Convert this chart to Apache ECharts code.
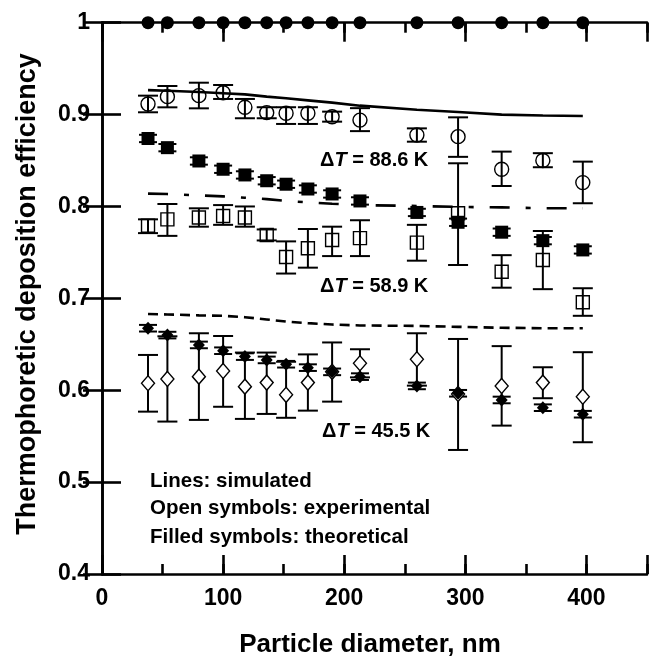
<!DOCTYPE html>
<html>
<head>
<meta charset="utf-8">
<script src="https://cdn.jsdelivr.net/npm/echarts@6/dist/echarts.min.js"></script>
<style>
  html, body { margin: 0; padding: 0; background: #fff; }
  #chart { width: 650px; height: 658px; }
</style>
</head>
<body>
<div id="chart"></div>
<script>
// Particle diameters (nm) shared by every series
const diameters = [38, 54, 80, 100, 118, 136, 152, 170, 190, 213, 260, 294, 330, 364, 397];

// ΔT = 88.6 K
const sim886 = [0.9266, 0.926, 0.9245, 0.9232, 0.922, 0.9195, 0.9177, 0.9155, 0.913, 0.9097, 0.9053, 0.9028, 0.900, 0.899, 0.8985];
const exp886 = [0.9115, 0.9195, 0.9206, 0.9238, 0.9079, 0.9021, 0.9014, 0.9014, 0.8977, 0.894, 0.8778, 0.876, 0.8405, 0.850, 0.826];
const exp886Lo = [0.9025, 0.9079, 0.9068, 0.917, 0.896, 0.896, 0.8898, 0.8898, 0.8923, 0.882, 0.8705, 0.854, 0.8223, 0.8427, 0.8035];
const exp886Hi = [0.9206, 0.9311, 0.9347, 0.9322, 0.917, 0.908, 0.908, 0.908, 0.9032, 0.907, 0.885, 0.897, 0.8597, 0.858, 0.8488];
const theo886 = [1, 1, 1, 1, 1, 1, 1, 1, 1, 1, 1, 1, 1, 1, 1];

// ΔT = 58.9 K
const sim589 = [0.814, 0.8135, 0.812, 0.811, 0.8095, 0.808, 0.806, 0.8045, 0.803, 0.8015, 0.8005, 0.7995, 0.799, 0.798, 0.798];
const exp589 = [0.779, 0.786, 0.788, 0.7897, 0.788, 0.769, 0.745, 0.7545, 0.7635, 0.7655, 0.7606, 0.7926, 0.729, 0.7417, 0.6957];
const exp589Lo = [0.771, 0.768, 0.778, 0.780, 0.778, 0.763, 0.727, 0.7334, 0.746, 0.746, 0.741, 0.7363, 0.7116, 0.710, 0.681];
const exp589Hi = [0.786, 0.8027, 0.798, 0.8015, 0.800, 0.775, 0.762, 0.7755, 0.778, 0.785, 0.780, 0.847, 0.747, 0.7733, 0.711];
const theo589 = [0.874, 0.864, 0.8495, 0.8405, 0.8343, 0.828, 0.8242, 0.819, 0.8136, 0.806, 0.7935, 0.7828, 0.772, 0.7628, 0.7527];
const theo589Err = [0.004, 0.004, 0.004, 0.004, 0.004, 0.004, 0.004, 0.004, 0.004, 0.004, 0.004, 0.004, 0.004, 0.004, 0.004];

// ΔT = 45.5 K
const sim455 = [0.683, 0.6825, 0.6815, 0.681, 0.6795, 0.677, 0.6748, 0.673, 0.6715, 0.6705, 0.670, 0.669, 0.668, 0.6675, 0.6675];
const exp455 = [0.6076, 0.6123, 0.6148, 0.621, 0.6039, 0.6083, 0.595, 0.6083, 0.620, 0.6294, 0.6337, 0.596, 0.6047, 0.6083, 0.593];
const exp455Lo = [0.5767, 0.5659, 0.5677, 0.582, 0.5688, 0.5742, 0.570, 0.5778, 0.5876, 0.614, 0.605, 0.535, 0.5615, 0.5913, 0.5434];
const exp455Hi = [0.6384, 0.6587, 0.662, 0.659, 0.641, 0.641, 0.631, 0.639, 0.652, 0.6446, 0.662, 0.6558, 0.648, 0.625, 0.6414];
const theo455 = [0.6675, 0.660, 0.6493, 0.643, 0.6366, 0.633, 0.6283, 0.6246, 0.620, 0.6148, 0.6047, 0.5967, 0.5894, 0.581, 0.5739];
const theo455Err = [0.0036, 0.0036, 0.0036, 0.0036, 0.0036, 0.0036, 0.0036, 0.0036, 0.0036, 0.0036, 0.0036, 0.0036, 0.0036, 0.0036, 0.0036];

// Axis tick labels
const xTickLabels = ['0', '100', '200', '300', '400'];
const yTickLabels = ['0.4', '0.5', '0.6', '0.7', '0.8', '0.9', '1'];

const FONT = 'Liberation Sans, Arial, Helvetica, sans-serif';
const BLACK = '#000';

// Plot area in pixels
const GRID = { left: 102, top: 22.7, width: 555, height: 551.3 };
const Y_MIN = 0.4, Y_MAX = 1;
const yPix = (v) => GRID.top + (Y_MAX - v) / (Y_MAX - Y_MIN) * GRID.height;

const pairs = (vals) => diameters.map((d, i) => [d, vals[i]]);

function errorBars(lo, hi, capHalf, width) {
  return {
    type: 'custom',
    data: diameters.map((d, i) => [d, lo[i], hi[i]]),
    encode: { x: 0, y: [1, 2] },
    clip: false,
    z: 3,
    silent: true,
    renderItem: (params, api) => {
      const x = api.value(0);
      const a = api.coord([x, api.value(1)]);
      const b = api.coord([x, api.value(2)]);
      const style = { stroke: BLACK, lineWidth: width, fill: null };
      return {
        type: 'group',
        children: [
          { type: 'line', shape: { x1: a[0], y1: a[1], x2: b[0], y2: b[1] }, style },
          { type: 'line', shape: { x1: a[0] - capHalf, y1: a[1], x2: a[0] + capHalf, y2: a[1] }, style },
          { type: 'line', shape: { x1: b[0] - capHalf, y1: b[1], x2: b[0] + capHalf, y2: b[1] }, style }
        ]
      };
    }
  };
}

function simLine(vals, type) {
  return {
    type: 'line',
    data: pairs(vals),
    showSymbol: false,
    symbol: 'none',
    lineStyle: { color: BLACK, width: 2.6, type: type },
    z: 2,
    silent: true
  };
}

function marks(vals, symbol, size, fill, borderWidth) {
  return {
    type: 'scatter',
    data: pairs(vals),
    symbol: symbol,
    symbolSize: size,
    clip: false,
    z: 5,
    itemStyle: { color: fill, borderColor: BLACK, borderWidth: borderWidth, opacity: 1 },
    silent: true
  };
}

const baseAxisLine = { show: true, lineStyle: { color: BLACK, width: 2.6 } };
const tickStyle = { color: BLACK, width: 2.6 };

const chart = echarts.init(document.getElementById('chart'), null, { renderer: 'canvas' });

chart.setOption({
  animation: false,
  backgroundColor: '#fff',
  grid: { left: GRID.left, top: GRID.top, width: GRID.width, height: GRID.height, containLabel: false },
  xAxis: [
    { // bottom axis, every 50 nm (short ticks) with labels at hundreds
      type: 'value', min: 0, max: 450, interval: 50, position: 'bottom',
      axisLine: baseAxisLine,
      axisTick: { show: true, inside: true, length: 10, lineStyle: tickStyle },
      splitLine: { show: false },
      axisLabel: {
        color: BLACK, fontSize: 23, fontWeight: 'bold', fontFamily: FONT, margin: 13,
        formatter: (v) => (v % 100 === 0 && v <= 400) ? xTickLabels[v / 100] : ''
      }
    },
    { // bottom axis, long ticks at hundreds
      type: 'value', min: 0, max: 450, interval: 100, position: 'bottom',
      axisLine: { show: false },
      axisTick: { show: true, inside: true, length: 19, lineStyle: tickStyle },
      splitLine: { show: false }, axisLabel: { show: false }
    },
    { // top frame, short ticks
      type: 'value', min: 0, max: 450, interval: 50, position: 'top',
      axisLine: baseAxisLine,
      axisTick: { show: true, inside: true, length: 10, lineStyle: tickStyle },
      splitLine: { show: false }, axisLabel: { show: false }
    },
    { // top frame, long ticks
      type: 'value', min: 0, max: 450, interval: 100, position: 'top',
      axisLine: { show: false },
      axisTick: { show: true, inside: true, length: 19, lineStyle: tickStyle },
      splitLine: { show: false }, axisLabel: { show: false }
    }
  ],
  yAxis: [
    {
      type: 'value', min: Y_MIN, max: Y_MAX, interval: 0.1, position: 'left',
      axisLine: baseAxisLine,
      axisTick: { show: true, inside: true, length: 19, lineStyle: tickStyle },
      splitLine: { show: false },
      axisLabel: {
        color: BLACK, fontSize: 23, fontWeight: 'bold', fontFamily: FONT, margin: 12,
        formatter: (v) => yTickLabels[Math.round((v - Y_MIN) * 10)]
      }
    },
    {
      type: 'value', min: Y_MIN, max: Y_MAX, interval: 0.1, position: 'right',
      axisLine: baseAxisLine,
      axisTick: { show: true, inside: true, length: 19, lineStyle: tickStyle },
      splitLine: { show: false }, axisLabel: { show: false }
    }
  ],
  series: [
    simLine(sim886, 'solid'),
    simLine(sim589, [20, 16, 5, 16]),
    simLine(sim455, [10, 6]),

    errorBars(exp886Lo, exp886Hi, 10, 2),
    errorBars(exp589Lo, exp589Hi, 10, 2),
    errorBars(exp455Lo, exp455Hi, 10, 2),
    errorBars(theo589.map((v, i) => v - theo589Err[i]), theo589.map((v, i) => v + theo589Err[i]), 9, 2),
    errorBars(theo455.map((v, i) => v - theo455Err[i]), theo455.map((v, i) => v + theo455Err[i]), 9, 2),

    marks(exp886, 'circle', 14, 'rgba(0,0,0,0)', 1.4),
    marks(exp589, 'rect', 13, 'rgba(0,0,0,0)', 1.4),
    marks(exp455, 'diamond', [13, 15], '#fff', 1.4),
    marks(theo886, 'circle', 13, BLACK, 0),
    marks(theo589, 'rect', 13, BLACK, 0),
    marks(theo455, 'diamond', [12, 13], BLACK, 0)
  ],
  graphic: [
    {
      type: 'text', x: 28, y: 294, rotation: Math.PI / 2,
      style: {
        text: 'Thermophoretic deposition efficiency', fill: BLACK,
        font: 'bold 27px ' + FONT, align: 'center', verticalAlign: 'middle'
      }
    },
    {
      type: 'text', x: 370, y: 645,
      style: {
        text: 'Particle diameter, nm', fill: BLACK,
        font: 'bold 26px ' + FONT, align: 'center', verticalAlign: 'middle'
      }
    },
    ...[['88.6', 320, 0.8505], ['58.9', 320, 0.7126], ['45.5', 322, 0.5554]].map(([t, x, v]) => ({
      type: 'text', x: x, y: yPix(v),
      style: {
        text: '{n|Δ}{i|T}{n| = ' + t + ' K}',
        verticalAlign: 'middle', align: 'left',
        rich: {
          n: { fontSize: 20, fontWeight: 'bold', fontFamily: FONT, fill: BLACK },
          i: { fontSize: 20, fontWeight: 'bold', fontStyle: 'italic', fontFamily: FONT, fill: BLACK }
        }
      }
    })),
    ...[['Lines: simulated', 0.5005], ['Open symbols: experimental', 0.471], ['Filled symbols: theoretical', 0.440]].map(([t, v]) => ({
      type: 'text', x: 150, y: yPix(v),
      style: { text: t, fill: BLACK, font: 'bold 20.5px ' + FONT, align: 'left', verticalAlign: 'middle' }
    }))
  ]
});
</script>
</body>
</html>
